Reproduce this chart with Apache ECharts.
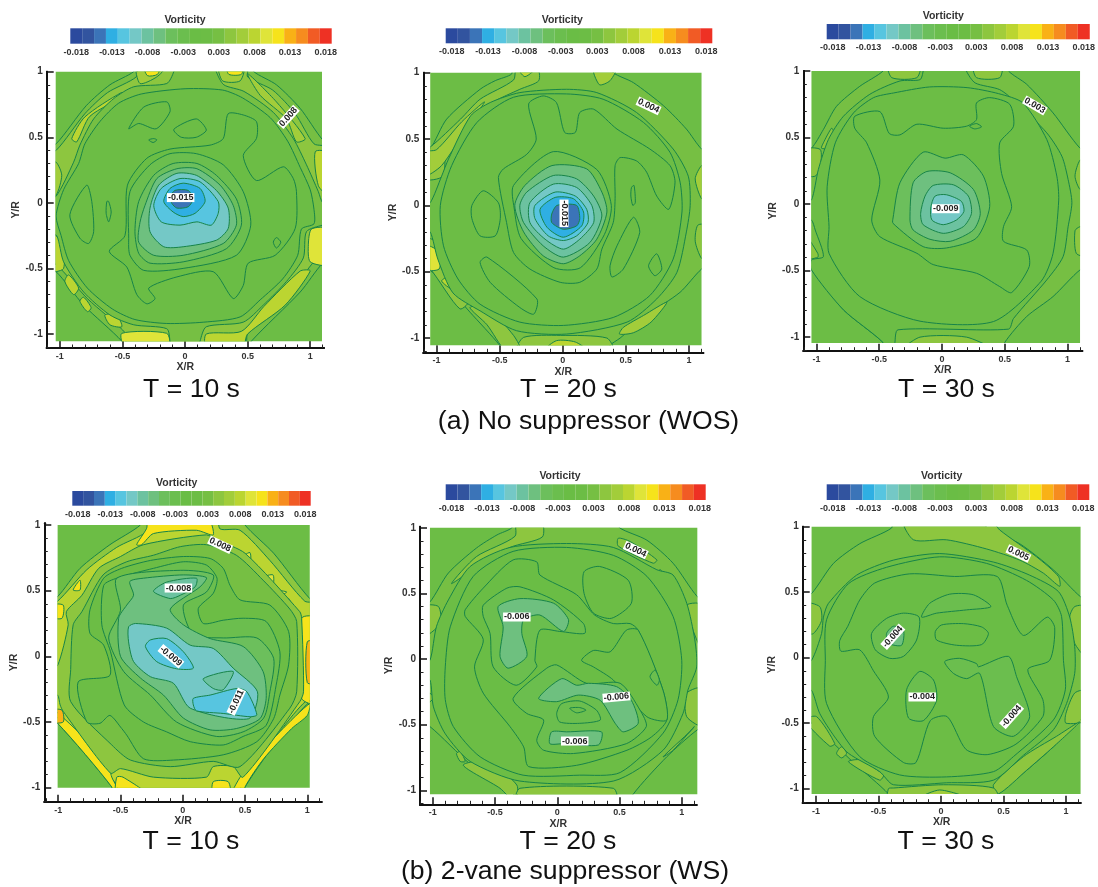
<!DOCTYPE html>
<html><head><meta charset="utf-8">
<script src="https://cdn.jsdelivr.net/npm/echarts@6/dist/echarts.min.js"></script>
<style>html,body{margin:0;padding:0;background:#fff}#c,#t{position:absolute;left:0;top:0;width:1098px;height:887px}#c{filter:blur(0.55px)}</style>
</head><body><div id="c"></div><div id="t"></div>
<script>
// ---- Colour scale (22 contour levels of the legend)
const barLevels=[-0.018,-0.0163,-0.0146,-0.0129,-0.0111,-0.0094,-0.0077,-0.006,-0.0043,-0.0026,-0.0009,0.0009,0.0026,0.0043,0.006,0.0077,0.0094,0.0111,0.0129,0.0146,0.0163,0.018];
const barColors=['#2b4a9e','#32549f','#3b74b8','#2fafe3','#57c5e0','#74c8c6','#6cc2a0','#6ec07f','#6cbf5c','#6bbe4e','#6abd45','#6cbd45','#76bf43','#8dc63f','#a2cd3a','#bbd531','#dfe439','#f6e31b','#f9b116','#f68c1f','#f15b25','#ee3124'];
const barTickLabels=['-0.018','','','-0.013','','','-0.008','','','-0.003','','','0.003','','','0.008','','','0.013','','','0.018'];
const majorTicks=[-1,-0.5,0,0.5,1];
const minorTicks=[-1.1,-0.9,-0.8,-0.7,-0.6,-0.4,-0.3,-0.2,-0.1,0.1,0.2,0.3,0.4,0.6,0.7,0.8,0.9,1.1];
const baseLevel=0.001;
const captions=['T = 10 s','T = 20 s','T = 30 s','(a) No suppressor (WOS)','T = 10 s','T = 20 s','T = 30 s','(b) 2-vane suppressor (WS)'];

// ---- Contour regions: [level, x1,y1, x2,y2, ...] in X/R, Y/R, painted in order
const p1Regions=[
[0.003,-1.1,.45,-1.03,.45,-.79,.74,-.6,.9,-.41,1,-.4,1.05,.55,1.05,.55,1,.73,.9,.92,.72,1.1,.48,1.15,.48,1.15,-.47,1.1,-.46,.92,-.68,.53,-1.055,.53,-1.1,-.51,-1.1,-.505,-1.055,-.81,-.78,-1.03,-.525,-1.1,-.525],
[0.004,-1.1,.41,-1.03,.4,-.8,.68,-.62,.84,-.39,.96,-.37,1.05,.5,1.05,.5,.96,.7,.86,.88,.68,1.03,.45,1.15,.42,1.15,-.4,1.03,-.45,.88,-.64,.5,-1,.48,-1.1,-.47,-1.1,-.47,-1,-.78,-.73,-1.03,-.47,-1.1,-.47],
[0.008,-.51,.84,-.48,.82,-.76,.66,-.865,.465,-.905,.49,-.8,.655],
[0.006,-.386,1.05,-.36,.91,-.226,.96,-.146,1.05],
[0.011,-.33,1.05,-.3,.97,-.22,.98,-.2,1.05],
[0.006,.27,1.05,.3,.93,.44,.93,.47,1.05],
[0.011,.33,1.05,.35,.98,.45,.98,.46,1.05],
[0.006,.5,.985,.73,.77,.96,.49,.89,.465,.81,.64,.6,.82],
[0.008,1.04,.39,1.15,.38,1.15,.06,1.065,.13],
[0.009,1.01,-.2,1.15,-.2,1.15,-.47,1,-.45,.985,-.32],
[0.006,-1.1,.31,-1.03,.31,-.985,.21,-1.03,.06,-1.1,.06],
[0.008,-1.1,-.25,-1.03,-.25,-.97,-.35,-.97,-.5,-1.03,-.525,-1.1,-.525],
[0.008,-.93,-.55,-.85,-.65,-.89,-.7,-.96,-.6],
[0.008,-.81,-.72,-.75,-.8,-.78,-.83,-.84,-.75],
[0.008,-.64,-.855,-.545,-.855,-.505,-.945,-.6,-.93],
[0.009,-.505,-.995,-.146,-.995,-.13,-1.1,-.48,-1.1],
[0.008,.17,-1.1,.17,-1,.45,-.98,.63,-.79,.92,-.52,1,-.52,.8,-.78,.5,-1,.46,-1.1],
[0.003,-1.1,.05,-1.03,.05,-.89,.31,-.84,.44,-.73,.64,-.57,.795,-.41,.885,-.146,.91,-.09,1,-.09,1.05,.25,1.05,.25,1,.31,.9,.47,.85,.705,.69,.865,.49,.97,.29,1.065,.085,1.1,0,1.15,0,1.15,-.17,1.1,-.17,.97,-.22,.945,-.42,.81,-.6,.625,-.78,.465,-.91,.17,-.945,.12,-1.055,.12,-1.1,-.12,-1.1,-.12,-1.055,-.146,-.96,-.41,-.93,-.6,-.855,-.81,-.68,-.97,-.45,-1.025,-.25,-1.1,-.22],
[0.001,-.97,.1,-.85,.3,-.8,.45,-.68,.62,-.53,.76,-.35,.83,0,.87,.3,.86,.46,.8,.68,.65,.82,.47,.92,.27,1,.1,1.03,-.05,1.03,-.16,.93,-.2,.9,-.4,.78,-.58,.6,-.74,.44,-.87,.15,-.91,-.15,-.92,-.4,-.89,-.58,-.81,-.78,-.65,-.93,-.44,-.99,-.25,-1.03,-.1],
[-0.001,-.605,-.37,-.465,-.49,-.385,-.7,-.305,-.77,-.24,-.73,-.29,-.65,-.065,-.565,.225,-.525,.385,-.73,.465,-.63,.505,-.46,.72,-.4,.88,-.195,.89,.085,.865,.185,.785,.275,.57,.17,.465,.36,.57,.49,.57,.62,.465,.67,.345,.68,.305,.49,.2,.44,-.12,.41,-.305,.34,-.46,.135,-.48,-.25],
[-0.003,-.45,-.27,-.44,.085,-.28,.29,-.12,.375,.09,.375,.305,.29,.465,.085,.525,-.17,.41,-.4,-.015,-.5,-.33,-.515,-.44,-.4],
[-0.004,-.4,-.22,-.37,.01,-.25,.21,-.095,.3,.095,.3,.25,.21,.41,.03,.45,-.17,.33,-.35,-.015,-.45,-.28,-.46,-.37,-.385],
[-0.006,-.32,-.02,-.225,.185,-.065,.26,.095,.26,.28,.135,.385,-.02,.41,-.17,.305,-.31,-.015,-.4,-.25,-.4,-.37,-.3,-.36,-.15],
[-0.009,-.28,-.04,-.21,.135,-.065,.225,.09,.21,.25,.095,.345,-.04,.345,-.195,.25,-.285,-.015,-.335,-.17,-.335,-.28,-.22],
[-0.011,-.19,-.145,-.25,-.02,-.19,.11,-.04,.185,.12,.16,.265,.01,.265,-.08,.21,-.17,.095,-.145,-.04,-.17],
[-0.013,-.17,.01,-.12,.11,-.015,.15,.12,.11,.16,.01,.08,-.08,-.015,-.105,-.095,-.07],
[-0.015,-.12,.045,-.08,.095,.025,.095,.065,.03,.025,-.03,-.065,-.04,-.105,-.005],
[0.001,-.45,.565,-.33,.73,-.146,.77,-.12,.695,-.23,.565,-.37,.605],
[0.001,-.09,.56,.09,.64,.17,.555,.09,.5,-.03,.5],
[0.001,-.29,.48,-.25,.49,-.225,.48,-.255,.46],
[0.001,-.92,-.09,-.785,.135,-.745,.01,-.73,-.22,-.77,-.31,-.84,-.27],
[0.001,-.625,.01,-.61,.01,-.59,-.07,-.61,-.145,-.63,-.08],
[0.001,.705,-.3,.73,-.265,.765,-.3,.73,-.345]];
const p1Labels=[[-.035,.04,'-0.015',0],[.825,.655,'0.008',48]];

const p2Regions=[
[0.003,-1.1,.425,-1.05,.425,-.92,.65,-.655,.875,-.535,.94,-.405,.99,-.405,1.05,.4,1.05,.4,1,.56,.925,.8,.75,.98,.575,1.1,.425,1.15,.425,1.15,-.48,1.1,-.48,.93,-.655,.665,-.83,.455,-1,.375,-1.055,.375,-1.1,-.5,-1.1,-.5,-1.055,-.735,-.805,-.945,-.58,-1.05,-.49,-1.1,-.49],
[0.004,-1.05,.44,-.81,.65,-.655,.8,-.39,.945,-.365,1.05,-.205,1.05,-.19,.94,-.34,.875,-.55,.78,-.76,.64,-.92,.45,-.95,.22,-1.1,.2,-1.1,.44],
[0.006,-1.1,.4,-1,.42,-.8,.63,-.62,.78,-.75,.6,-.96,.3,-1.1,.22],
[0.008,-.36,1.05,-.3,.97,-.2,1.05],
[0.006,.24,1.05,.29,.91,.375,.94,.43,1.05],
[0.006,1.1,.3,1.05,.2,1.1,.05,1.15,.05,1.15,.3],
[0.004,1.15,-.15,1.07,-.15,1.05,-.27,1.1,-.4,1.15,-.4],
[0.004,-1.1,-.25,-1.05,-.25,-.97,-.3,-.945,-.5,-.735,-.705,-.815,-.78,-1.05,-.48,-1.1,-.48],
[0.009,-1.1,-.3,-.98,-.35,-.98,-.48,-1.1,-.48],
[0.008,-.96,-.57,-.905,-.54,-.88,-.63],
[0.006,.48,-.92,.64,-.83,.825,-.73,.7,-.88,.56,-.96,.45,-.97],
[0.004,-.365,-1.1,-.31,-.995,-.02,-.98,.35,-1,.4,-1.1],
[0.008,-.15,-1.1,-.05,-1.02,.1,-1.03,.2,-1.1],
[0.004,-.735,-.77,-.6,-.77,-.39,-.98,-.33,-1.1,-.45,-1.1,-.6,-.9],
[0.001,-1.1,.02,-1.05,.02,-.96,.22,-.905,.35,-.73,.675,-.575,.775,-.34,.85,.03,.875,.27,.85,.585,.7,.875,.425,.995,.22,1.01,0,.98,-.2,.905,-.505,.745,-.705,.51,-.88,.03,-.97,-.365,-.945,-.655,-.795,-.87,-.66,-.99,-.405,-1.05,-.2,-1.1,-.2],
[0.001,-.97,0,-.88,.3,-.68,.625,-.39,.815,.03,.84,.32,.8,.64,.625,.85,.4,.93,.175,.945,-.05,.875,-.405,.69,-.68,.4,-.845,.005,-.905,-.34,-.88,-.655,-.745,-.83,-.555,-.945,-.305],
[-0.001,-.51,.21,-.445,-.13,-.39,-.355,-.26,-.48,-.02,-.58,.135,-.58,.27,-.48,.31,-.33,.4,-.13,.415,.05,.415,.3,.455,.36,.585,.335,.665,.25,.745,.07,.84,-.03,.89,.175,.85,.3,.69,.425,.43,.575,.245,.725,.135,.7,.1,.55,.015,.55,-.05,.775,-.155,.825,-.27,.765,-.21,.5,-.285,.385,-.47,.275],
[-0.003,-.39,.15,-.075,.405,.27,.27,.385,0,.33,-.22,.14,-.47,-.07,-.47,-.33,-.25,-.385,-.02],
[-0.006,-.085,.3,.19,.275,.31,.1,.35,-.05,.27,-.255,.135,-.38,.005,-.44,-.155,-.38,-.31,-.2,-.38,0,-.3,.15],
[-0.008,-.285,.1,-.075,.225,.11,.2,.245,.07,.31,-.08,.215,-.28,.005,-.39,-.155,-.305,-.31,-.13,-.34,0],
[-0.009,-.26,.02,-.075,.16,.11,.135,.23,0,.245,-.13,.135,-.255,.005,-.33,-.14,-.255,-.26,-.13],
[-0.011,-.22,0,-.06,.1,.1,.07,.19,-.03,.2,-.13,.11,-.23,.005,-.265,-.115,-.23,-.22,-.1],
[-0.013,-.18,-.03,-.06,.06,.085,.05,.165,-.05,.15,-.155,.005,-.24,-.125,-.165],
[-0.015,-.087,-.065,-.045,0,.11,0,.135,-.1,.11,-.155,.005,-.18,-.087,-.13],
[0.001,-.72,0,-.63,.11,-.51,.02,-.495,-.1,-.535,-.23,-.655,-.23,-.72,-.1],
[0.001,-.655,-.43,-.6,-.39,-.205,-.705,-.23,-.82,-.34,-.77,-.575,-.58],
[0.001,.375,-.455,.43,-.305,.56,-.09,.61,-.205,.48,-.48,.39,-.54],
[0.001,.68,-.455,.745,-.365,.785,-.48,.73,-.53],
[0.001,.545,.135,.565,.15,.575,.02,.555,0,.54,.07]];
const p2Labels=[[.68,.75,'0.004',-25],[.01,-.06,'-0.015',-90]];

const p3Regions=[
[0.003,-1.1,.42,-1.04,.42,-.945,.56,-.84,.735,-.655,.885,-.47,1,-.47,1.06,.53,1.06,.53,1,.675,.9,.885,.685,1.1,.42,1.16,.42,1.16,-.5,1.1,-.495,.885,-.695,.675,-.845,.5,-1.04,.5,-1.1,-.47,-1.1,-.47,-1.04,-.785,-.795,-1.04,-.495,-1.1,-.495],
[0.004,-.945,.46,-.88,.57,-.865,.545,-.905,.42,-.96,.42],
[0.004,-1.1,.41,-.97,.41,-.97,.28,-1.01,.21,-1.1,.22],
[0.004,-1.1,-.22,-.99,-.37,-.99,-.4,-1.1,-.41],
[0.004,-.43,1.06,-.4,.95,-.2,.95,-.175,1.06],
[0.004,.25,1.06,.275,.95,.46,.95,.475,1.06],
[0.004,-.31,-1.1,-.175,-1,.195,-1,.41,-1.1],
[0.004,1.16,.33,1.1,.33,1.06,.21,1.1,.11,1.16,.11],
[0.004,1.16,-.17,1.1,-.17,1.06,-.2,1.07,-.37,1.16,-.39],
[0.001,-1.1,.03,-1.04,.03,-.985,.26,-.905,.485,-.785,.66,-.575,.825,-.335,.925,-.175,.935,-.15,1,-.15,1.06,.195,1.06,.195,1,.265,.91,.46,.86,.595,.76,.835,.535,.955,.36,1.005,.185,1.035,.01,1.005,-.17,.965,-.395,.835,-.57,.57,-.86,.53,-.94,-.35,-.945,-.375,-1.04,-.375,-1.1,-.47,-1.1,-.47,-1.04,-.785,-.795,-1.04,-.495,-1.04,-.42,-.945,-.395,-1.01,-.195,-1.04,-.12,-1.1,-.12],
[0.001,-.9,-.17,-.915,.13,-.85,.46,-.705,.685,-.545,.8,-.385,.835,-.1,.88,.2,.875,.45,.83,.645,.76,.835,.485,.915,.21,.93,.03,.885,-.37,.79,-.58,.41,-.883,-.175,-.88,-.655,-.695,-.9,-.37],
[-0.001,-.695,.66,-.495,.695,-.42,.53,-.335,.52,-.2,.6,.01,.57,.195,.585,.275,.635,.275,.76,.38,.8,.54,.75,.57,.585,.46,.46,.475,.23,.555,-.02,.49,-.17,.49,-.28,.675,-.345,.695,-.47,.555,-.665,.46,-.62,.275,-.52,-.07,-.455,-.2,-.37,-.495,-.245,-.56,-.12,-.495,.18,-.6,.46,-.695,.57],
[0.001,.22,.585,.275,.605,.315,.58,.26,.565],
[-0.004,-.39,-.105,-.335,.16,-.15,.39,.025,.345,.17,.37,.33,.21,.38,-.02,.275,-.255,.035,-.33,-.15,-.32,-.39,-.145],
[-0.006,-.255,-.12,-.23,.16,-.12,.245,.065,.235,.25,.11,.305,-.07,.25,-.195,.065,-.28,-.095,-.265,-.23,-.195],
[-0.008,-.17,-.07,-.135,.06,-.07,.14,.09,.145,.21,.06,.235,-.07,.17,-.17,.01,-.22,-.15,-.155],
[-0.009,-.09,-.03,-.055,.06,.035,.07,.155,.02,.175,-.055,.115,-.12,.01,-.155,-.08,-.12]];
const p3Labels=[[.74,.74,'0.003',-30],[.03,-.035,'-0.009',0]];

const p4Regions=[
[0.004,-1.06,.455,-1.005,.455,-.825,.67,-.585,.85,-.34,1,-.34,1.06,.5,1.06,.5,1,.73,.785,1.02,.44,1.08,.44,1.08,-.36,1.02,-.345,.81,-.575,.5,-.995,.5,-1.06,-.57,-1.06,-.57,-.995,-1.005,-.51,-1.06,-.51],
[0.008,-1.06,.42,-1.005,.42,-.77,.66,-.53,.83,-.29,.95,-.27,1.06,.27,1.06,.3,.97,.46,.96,.7,.73,.98,.42,1.08,.4,1.08,-.33,.99,-.34,.79,-.56,.47,-.98,.45,-1.06,-.53,-1.06,-.53,-.98,-1,-.47,-1.06,-.47],
[0.011,-.37,.85,-.29,.975,-.275,1.06,.195,1.06,.245,.925,.11,.96,-.235,.935,-.33,.85],
[0.011,-1.06,-.43,-1.005,-.43,-.61,-.8,-.57,-.92,-.5,-1.06,-.57,-1.06,-.57,-.995,-1.005,-.51,-1.06,-.51],
[0.011,.39,-1.06,.49,-.88,.78,-.575,1.02,-.36,1,-.45,.875,-.55,.65,-.78,.5,-.995,.5,-1.06],
[0.011,.955,.29,1.08,.29,1.08,-.36,.955,-.32],
[0.013,1,.11,1.08,.11,1.08,-.2,1,-.2],
[0.011,-.88,.505,-.825,.58,-.825,.505],
[0.011,-1.06,.39,-.96,.39,-.97,.29,-1.06,.3],
[0.013,-1.06,-.41,-.97,-.41,-.96,-.5,-1.06,-.5],
[0.011,-.53,-.92,-.48,-.92,-.275,-1.06,-.53,-1.06],
[0.011,.245,-.955,.365,-.955,.38,-1.06,.245,-1.06],
[0.009,.5,.77,.54,.79,.545,.735,.51,.72],
[0.009,.645,.6,.725,.62,.725,.54,.685,.54],
[0.009,.755,.5,.835,.49,.78,.465],
[0.009,.85,.44,.875,.39,.86,.365],
[0.004,-1.06,-.07,-1.005,-.07,-.92,.24,-.935,.34,-.81,.465,-.675,.67,-.5,.76,-.315,.85,.19,.925,.275,.885,.5,.785,.94,.34,.955,.29,.97,-.27,.94,-.345,.485,-.92,.405,-.84,.245,-.84,.19,-.92,-.235,-.92,-.5,-.855,-.58,-.89,-.96,-.42,-.985,-.37,-1.005,-.295,-1.06,-.295],
[0.003,-.9,-.1,-.88,.24,-.81,.34,-.64,.62,-.45,.72,-.235,.77,-.02,.835,.19,.85,.43,.77,.645,.58,.86,.36,.915,.265,.915,-.27,.86,-.395,.46,-.84,.245,-.8,-.1,-.84,-.42,-.79,-.57,-.675,-.9,-.345],
[0.001,-.635,.595,-.49,.67,-.26,.73,.005,.76,.22,.745,.325,.67,.38,.54,.46,.43,.7,.39,.85,.19,.85,-.065,.78,-.295,.73,-.475,.595,-.65,.325,-.75,-.075,-.79,-.315,-.78,-.45,-.6,-.49,-.55,-.585,-.45,-.665,-.51,-.77,-.5,-.84,-.195,-.585,-.145,-.635,.085,-.745,.175,-.745,.355],
[-0.003,-.65,.24,-.635,.54,-.53,.595,-.235,.67,.005,.72,.19,.695,.275,.595,.245,.48,.125,.365,.165,.25,.325,.275,.485,.29,.67,.265,.78,.035,.75,-.22,.67,-.525,.485,-.61,.325,-.675,.06,-.65,-.13,-.575,-.315,-.5,-.47,-.37,-.58,.035],
[-0.004,-.53,.595,-.02,.655,.245,.62,.19,.49,.005,.39,.085,.165,.325,.14,.595,.14,.73,-.015,.7,-.27,.65,-.47,.485,-.575,.27,-.61,-.05,-.5,-.26,-.295,-.475,-.115,-.595,.14,-.5,.35],
[-0.006,-.425,.57,-.315,.595,.005,.62,.19,.6,.14,.53,-.1,.36,.005,.24,.22,.135,.485,.075,.645,-.115,.67,-.32,.62,-.475,.43,-.55,.22,-.56,.005,-.47,-.155,-.295,-.34,-.165,-.5,0,-.515,.29,-.45,.39,-.395,.465],
[-0.008,-.235,.495,-.13,.565,.11,.595,.1,.53,-.02,.465,-.1,.44],
[-0.009,-.435,.225,-.38,.25,-.13,.215,.06,.085,.245,.06,.405,-.09,.6,-.27,.53,-.475,.06,-.395,-.075,-.205,-.26,-.155,-.395,-.04,-.435,.11],
[-0.008,.165,-.17,.405,-.115,.325,-.255,.245,-.245],
[-0.011,-.3,.075,-.26,.125,-.13,.135,.005,.035,.085,-.09,-.05,-.095,-.21,-.04],
[-0.012,.085,-.32,.22,-.295,.435,-.245,.515,-.27,.595,-.445,.54,-.46,.325,-.435,.11,-.415,.085,-.37]];
const p4Labels=[[.3,.85,'0.008',-25],[-.035,.52,'-0.008',0],[-.095,0,'-0.009',-40],[.43,-.345,'-0.011',65]];

const p5Regions=[
[0.003,-1.08,.435,-1.023,.435,-.875,.655,-.65,.845,-.485,.945,-.365,1,-.365,1.06,.5,1.06,.5,1,.72,.905,.93,.73,1.125,.475,1.18,.475,1.18,-.54,1.125,-.54,.88,-.745,.61,-1.03,.61,-1.09,-.35,-1.09,-.35,-1.03,-.7,-.8,-1.023,-.515,-1.08,-.515],
[0.004,-.85,.575,-.65,.78,-.34,.935,-.33,1.06,-.13,1.06,-.12,.93,-.38,.85,-.68,.68],
[0.004,-1.08,.4,-.955,.4,-.94,.27,-1.08,.17],
[0.004,1.04,.41,1.18,.41,1.18,.04,1.09,.22],
[0.004,1.04,-.26,1.18,-.22,1.18,-.515,1.04,-.44],
[0.004,.85,-.745,1.08,-.54,1.1,-.515,.93,-.695],
[0.004,-1.08,-.24,-.99,-.29,-1.08,-.36],
[0.004,-.81,-.72,-.78,-.705,-.74,-.78,-.78,-.78],
[0.004,-.755,-.81,-.57,-.78,-.325,-.96,-.34,-1.09,-.46,-.985],
[0.004,-.33,-1.09,-.3,-.985,.45,-.985,.475,-1.09],
[0.004,.49,.92,.585,.895,.8,.755,.77,.73,.49,.86],
[0.006,.8,.66,.83,.68,.845,.63,.82,.6],
[0.001,-1.08,-.02,-1.023,-.01,-.97,.25,-.875,.45,-.7,.705,-.38,.85,.075,.88,.45,.85,.8,.68,.93,.64,1.04,.425,1.105,.145,1.12,-.06,1.05,-.235,1.01,-.415,.85,-.695,.45,-.93,-.3,-.93,-.7,-.78,-.9,-.57,-.995,-.365,-1.023,-.16,-1.08,-.16],
[0.001,-.9,-.06,-.86,.245,-.675,.63,-.355,.82,.075,.85,.45,.79,.72,.63,.93,.325,1,-.01,.97,-.31,.85,-.565,.505,-.865,.18,-.885,-.275,-.885,-.62,-.745,-.835,-.515,-.9,-.31],
[-0.001,-.74,.375,-.595,.54,-.355,.755,-.165,.74,-.14,.64,.155,.49,.3,.335,.45,.27,.585,.27,.65,.22,.85,-.24,.88,-.465,.755,-.595,.56,-.695,.155,-.81,-.23,-.82,-.27,-.67,-.38,-.515,-.595,-.26,-.665,-.06,-.595,.15,-.74,.325],
[0.001,.215,.665,.34,.705,.57,.6,.595,.425,.435,.31,.29,.35,.215,.5],
[0.001,.195,-.01,.29,.065,.425,.055,.555,.22,.65,.22,.85,-.24,.88,-.465,.72,-.44,.45,-.16,.29,-.06],
[-0.003,.745,-.135,.785,-.085,.82,-.16,.8,-.2],
[-0.003,-.595,.41,-.405,.54,-.3,.55,-.03,.45,.21,.27,.22,.195,.02,.21,-.14,.22,-.18,-.01,-.165,-.06,-.33,-.2,-.515,-.06,-.54,.195,-.595,.325],
[-0.006,-.475,.4,-.3,.46,-.03,.425,.09,.3,.05,.21,-.14,.335,-.27,.3,-.285,.195,-.245,.02,-.395,-.07,-.46,.02,-.435,.245],
[-0.003,-.355,-.3,-.085,-.07,-.005,-.045,.235,-.185,.505,-.185,.665,-.39,.715,-.515,.555,-.645,.13,-.72,-.11,-.695,-.165,-.62,-.11,-.465,-.245,-.415],
[-0.006,-.15,-.3,.035,-.15,.155,-.2,.25,-.185,.475,-.21,.595,-.315,.65,-.49,.53,-.555,.465,-.49,.345,-.315,.17,-.275,-.005,-.325],
[-0.003,-.005,-.415,.035,-.34,.18,-.32,.315,-.39,.345,-.465,.18,-.49,.02,-.48],
[-0.003,.1,-.375,.18,-.37,.23,-.39,.155,-.41],
[-0.006,-.045,-.555,.075,-.555,.355,-.555,.33,-.655,.05,-.645,-.06,-.645]];
const p5Labels=[[.63,.83,'0.004',-25],[-.325,.32,'-0.006',0],[.475,-.29,'-0.006',5],[.14,-.625,'-0.006',0]];

const p6Regions=[
[0.003,-1.09,.49,-1.035,.49,-.86,.72,-.65,.87,-.395,.99,-.395,1.06,.365,1.06,.365,.99,.63,.87,.9,.67,1.117,.465,1.17,.465,1.17,-.5,1.117,-.475,.9,-.68,.685,-.86,.46,-1.04,.46,-1.09,-.42,-1.09,-.42,-1.04,-.7,-.8,-1.035,-.5,-1.09,-.5],
[0.004,-.3,1.06,-.22,.9,.045,.9,.365,.83,.63,.745,.82,.645,.95,.545,.94,.62,.765,.77,.47,.975,.39,1.06],
[0.004,-1.09,.415,-.97,.39,-.955,.285,-1.02,.185,-1.09,.185],
[0.004,1.03,.31,1.07,.39,1.17,.39,1.17,0,1.07,.11],
[0.004,1,-.425,1.07,-.27,1.17,-.25,1.17,-.475,1,-.5],
[0.004,-1.09,-.475,-.995,-.45,-.85,-.655,-.89,-.675],
[0.004,-.795,-.68,-.835,-.73,-.795,-.765,-.755,-.73],
[0.004,-.74,-.795,-.65,-.78,-.46,-.895,-.49,-.935],
[0.004,.42,-.97,.66,-.755,.925,-.6,1.11,-.49,.9,-.68,.685,-.86,.46,-1.04],
[0.004,-.42,-1.09,-.42,-1,-.38,-.995,.02,-.97,.42,-.995,.46,-1.09],
[0.006,-.2,-1.09,-.01,-1.01,.26,-1.09],
[0.001,-1.09,-.02,-1.035,-.02,-.955,.185,-.94,.31,-.9,.415,-.675,.63,-.38,.745,-.01,.795,.42,.73,.71,.63,.94,.505,1.03,.31,1.07,.085,1.07,-.12,1.005,-.35,.9,-.55,.66,-.745,.42,-.935,.045,-.955,-.38,-.97,-.49,-.87,-.74,-.73,-.85,-.605,-.97,-.425,-1.035,-.25,-1.09,-.25],
[0.001,-.925,-.02,-.915,.29,-.74,.565,-.435,.69,-.01,.77,.365,.72,.685,.59,.9,.44,.965,.315,.98,-.02,.995,-.245,.9,-.475,.58,-.755,.42,-.87,.045,-.91,-.33,-.895,-.65,-.755,-.915,-.35],
[-0.001,-.81,.13,-.745,.24,-.65,.44,-.53,.57,-.25,.64,.11,.62,.45,.62,.53,.4,.66,.17,.85,.31,.91,.23,.87,-.02,.695,-.09,.815,-.32,.815,-.45,.6,-.66,.37,-.74,.2,-.7,.05,-.45,-.085,-.48,-.2,-.8,-.3,-.8,-.53,-.6,-.54,-.45,-.42,-.3,-.54,-.1,-.65,.06,-.8,.05],
[-0.003,-.555,.185,-.435,.3,-.3,.34,-.175,.31,-.195,.135,-.3,.01,-.41,-.005,-.525,.06],
[-0.006,-.435,.185,-.38,.24,-.3,.21,-.315,.095,-.42,.11],
[-0.003,-.155,.31,-.09,.415,.07,.485,.26,.48,.4,.39,.205,.365,-.035,.34],
[0.001,-.045,.2,.005,.25,.18,.26,.325,.235,.38,.185,.325,.1,.125,.095,-.035,.135],
[-0.003,.03,-.03,.15,-.005,.285,-.045,.3,-.07,.54,.01,.605,-.145,.71,-.45,.58,-.6,.42,-.525,.31,-.12,.205,-.16,.1,-.12],
[-0.003,-.275,-.245,-.17,-.105,-.06,-.17,-.035,-.325,-.14,-.48,-.26,-.46]];
const p6Labels=[[.62,.795,'0.005',-25],[-.385,.16,'-0.004',48],[-.15,-.3,'-0.004',0],[.565,-.445,'-0.004',48]];

// ---- Panel layout (pixels and axis ranges)
const panels=[
{regions:p1Regions,labels:p1Labels,fieldX:[-1.033,1.094],fieldY:[-1.055,1],xr:[-1.105,1.11],yr:[-1.107,1],g:[46.7,71.7,277.3,276.3],cb:[70.3,28.3,261.4,15.4],tc:[185,15]},
{regions:p2Regions,labels:p2Labels,fieldX:[-1.05,1.1],fieldY:[-1.055,1],xr:[-1.105,1.114],yr:[-1.1075,1],g:[423.3,72.7,280,279.6],cb:[445.7,28.3,266.6,15],tc:[562.3,14.5]},
{regions:p3Regions,labels:p3Labels,fieldX:[-1.04,1.1],fieldY:[-1.045,1],xr:[-1.105,1.118],yr:[-1.102,1],g:[803.3,71,279,279.7],cb:[826.7,24,265,15.3],tc:[943.3,10.5]},
{regions:p4Regions,labels:p4Labels,fieldX:[-1.005,1.02],fieldY:[-1,1],xr:[-1.112,1.116],yr:[-1.107,1.013],g:[44.3,523.3,277.4,278.4],cb:[72.3,491,238.4,14.7],tc:[176.7,478]},
{regions:p5Regions,labels:p5Labels,fieldX:[-1.023,1.125],fieldY:[-1.03,1],xr:[-1.103,1.12],yr:[-1.107,1.008],g:[420,526.7,276.7,277.6],cb:[445.7,484.3,260,15.7],tc:[560,471]},
{regions:p6Regions,labels:p6Labels,fieldX:[-1.035,1.117],fieldY:[-1.04,1],xr:[-1.106,1.118],yr:[-1.107,1],g:[802.7,526.7,278,276],cb:[826.7,484.3,262.6,15.7],tc:[941.7,471]}];
const capPos=[[191.5,390,26.6],[568.5,390,26.6],[946.5,390,26.6],[588.5,422,26.6],[191,842,26.6],[568,842,26.6],[946,842,26.6],[565,872,26.6]];

const FONT='"Liberation Sans",Arial,sans-serif', INK='#333', LINE='#178449';
function levelColor(v){const i=Math.round((v+0.018)/0.001714);return barColors[Math.max(0,Math.min(21,i))];}

const opt={animation:false,backgroundColor:'#fff',title:[],grid:[],xAxis:[],yAxis:[],series:[]};
panels.forEach((p,k)=>{
  const gi=k*2;
  opt.grid.push({left:p.g[0],top:p.g[1],width:p.g[2],height:p.g[3]});
  opt.grid.push({left:p.cb[0],top:p.cb[1],width:p.cb[2],height:p.cb[3]});
  const ax=k*3;
  const xBase={type:'value',gridIndex:gi,position:'bottom',min:p.xr[0],max:p.xr[1],splitLine:{show:false},
    axisLine:{show:true,onZero:false,lineStyle:{color:'#111',width:2}}};
  const yBase={type:'value',gridIndex:gi,position:'left',min:p.yr[0],max:p.yr[1],splitLine:{show:false},
    axisLine:{show:true,onZero:false,lineStyle:{color:'#111',width:2}}};
  const major=(o,size)=>Object.assign({},o,{
    axisTick:{show:true,inside:true,length:7,customValues:majorTicks,lineStyle:{color:'#111',width:1.5}},
    axisLabel:{show:true,customValues:majorTicks,margin:4,fontFamily:FONT,fontWeight:'bold',fontSize:size,color:INK,
      formatter:v=>String(Math.round(v*10)/10),showMinLabel:true,showMaxLabel:true}});
  const minor=o=>Object.assign({},o,{
    axisTick:{show:true,inside:true,length:3.5,customValues:minorTicks,lineStyle:{color:'#222',width:1}},
    axisLabel:{show:false}});
  opt.xAxis.push(Object.assign(major(xBase,9),{name:'X/R',nameLocation:'middle',nameGap:14,nameTextStyle:{fontFamily:FONT,fontWeight:'bold',fontSize:10.5,color:INK}}));
  opt.yAxis.push(Object.assign(major(yBase,10),{name:'Y/R',nameLocation:'middle',nameGap:25,nameTextStyle:{fontFamily:FONT,fontWeight:'bold',fontSize:10.5,color:INK}}));
  opt.xAxis.push(minor(xBase)); opt.yAxis.push(minor(yBase));
  opt.xAxis.push({type:'category',gridIndex:gi+1,data:barTickLabels.map((t,i)=>t||(' '.repeat(i%3+1)+i)),axisLine:{show:false},axisTick:{show:false},
    axisLabel:{interval:0,margin:4,fontFamily:FONT,fontWeight:'bold',fontSize:9,color:INK,hideOverlap:false,
      formatter:(v,i)=>barTickLabels[i]}});
  opt.yAxis.push({type:'value',gridIndex:gi+1,min:0,max:1,show:false});
  opt.title.push({text:'Vorticity',left:p.tc[0],top:p.tc[1],textAlign:'center',textStyle:{fontFamily:FONT,fontWeight:'bold',fontSize:10.5,color:INK},padding:0});
  opt.series.push({type:'bar',xAxisIndex:ax+2,yAxisIndex:ax+2,barWidth:'100%',silent:true,
    data:barLevels.map((l,i)=>({value:1,itemStyle:{color:barColors[i]}}))});
  const rectOf=api=>{const a=api.coord([p.fieldX[0],p.fieldY[1]]),b=api.coord([p.fieldX[1],p.fieldY[0]]);return {x:a[0],y:a[1],width:b[0]-a[0],height:b[1]-a[1]};};
  opt.series.push({type:'custom',xAxisIndex:ax,yAxisIndex:ax,silent:true,clip:false,data:[[p.fieldX[0],p.fieldY[0]]],
    renderItem:(ps,api)=>({type:'rect',shape:rectOf(api),style:{fill:levelColor(baseLevel)}})});
  opt.series.push({type:'custom',xAxisIndex:ax,yAxisIndex:ax,silent:true,clip:false,
    data:p.regions.map(r=>[r[1],r[2],r[0]]),
    renderItem:(ps,api)=>{
      const r=p.regions[ps.dataIndex],pts=[];
      for(let i=1;i<r.length;i+=2)pts.push(api.coord([r[i],r[i+1]]));
      return {type:'group',clipPath:{type:'rect',shape:rectOf(api)},children:[
        {type:'polygon',shape:{points:pts,smooth:0.25},style:{fill:levelColor(r[0]),stroke:LINE,lineWidth:1}}]};
    }});
  opt.series.push({type:'custom',xAxisIndex:ax,yAxisIndex:ax,silent:true,clip:false,
    data:p.labels.map(l=>[l[0],l[1]]),
    renderItem:(ps,api)=>{
      const l=p.labels[ps.dataIndex],c=api.coord([l[0],l[1]]);
      return {type:'text',x:c[0],y:c[1],rotation:l[3]*Math.PI/180,style:{text:l[2],fill:'#222',backgroundColor:'#fff',padding:[0,1],
        font:'bold 9px '+FONT,align:'center',verticalAlign:'middle'}};
    }});
});
echarts.init(document.getElementById('c'),null,{renderer:'canvas',width:1098,height:887}).setOption(opt);
echarts.init(document.getElementById('t'),null,{renderer:'canvas',width:1098,height:887}).setOption({animation:false,
  title:captions.map((t,i)=>{const c=capPos[i];return {text:t,left:c[0],top:c[1]-c[2]/2-1,textAlign:'center',padding:0,textStyle:{fontFamily:FONT,fontWeight:'normal',fontSize:c[2],color:'#111'}};})});
</script></body></html>
